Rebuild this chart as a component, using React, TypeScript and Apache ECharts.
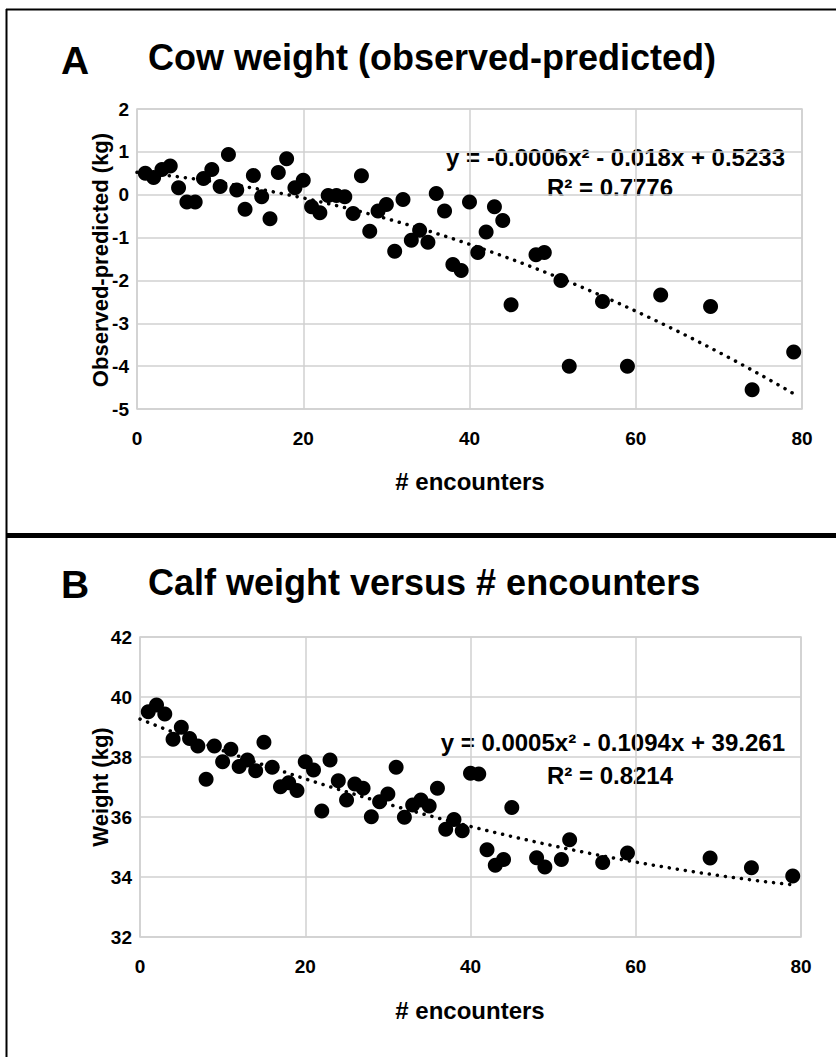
import React, { useEffect, useRef } from "react";
import * as echarts from "echarts";

// Panel A: cow weight (observed - predicted)
const cowX = [1,2,3,4,5,6,7,8,9,10,11,12,13,14,15,16,17,18,19,20,21,22,23,24,25,26,27,28,29,30,31,32,33,34,35,36,37,38,39,40,41,42,43,44,45,48,49,51,52,56,59,63,69,74,79];
const cowY = [0.50,0.40,0.59,0.67,0.16,-0.17,-0.17,0.38,0.59,0.19,0.94,0.11,-0.34,0.45,-0.05,-0.56,0.52,0.84,0.16,0.34,-0.28,-0.42,-0.02,-0.02,-0.05,-0.44,0.44,-0.85,-0.38,-0.23,-1.32,-0.11,-1.06,-0.83,-1.11,0.03,-0.38,-1.63,-1.77,-0.17,-1.35,-0.87,-0.28,-0.60,-2.57,-1.40,-1.35,-2.00,-4.00,-2.49,-4.00,-2.34,-2.61,-4.55,-3.67];
const cowTrendCoef = [-0.0006, -0.018, 0.5233];

// Panel B: calf weight
const calfX = [1,2,3,4,5,6,7,8,9,10,11,12,13,14,15,16,17,18,19,20,21,22,23,24,25,26,27,28,29,30,31,32,33,34,35,36,37,38,39,40,41,42,43,44,45,48,49,51,52,56,59,69,74,79];
const calfY = [39.51,39.73,39.43,38.59,38.99,38.62,38.37,37.26,38.37,37.84,38.26,37.68,37.90,37.54,38.49,37.66,37.01,37.14,36.88,37.84,37.57,36.20,37.90,37.21,36.57,37.10,36.96,36.01,36.51,36.77,37.66,35.99,36.40,36.57,36.37,36.96,35.59,35.92,35.54,37.46,37.43,34.91,34.39,34.58,36.32,34.64,34.33,34.58,35.24,34.48,34.80,34.63,34.31,34.03];
const calfTrendCoef = [0.0005, -0.1094, 39.261];

const xTicks = [0, 20, 40, 60, 80];
const cowYTicks = [-5, -4, -3, -2, -1, 0, 1, 2];
const calfYTicks = [32, 34, 36, 38, 40, 42];

const FONT = "'Liberation Sans', Arial, sans-serif";

function trend(coef: number[], xMax: number) {
  const pts: number[][] = [];
  for (let x = 0; x <= xMax; x += 0.5) {
    pts.push([x, coef[0] * x * x + coef[1] * x + coef[2]]);
  }
  return pts;
}

export default function App() {
  const ref = useRef<HTMLDivElement>(null);
  useEffect(() => {
    if (!ref.current) return;
    const chart = echarts.init(ref.current, null, { renderer: "svg" });
    const gridStyle = { lineStyle: { color: "#d0d0d0", width: 1.5 } };
    const axisLabel = { color: "#000", fontFamily: FONT, fontWeight: "bold", fontSize: 19 };
    const xAxisBase = {
      type: "value",
      min: xTicks[0],
      max: xTicks[xTicks.length - 1],
      interval: 20,
      axisLine: { show: false },
      axisTick: { show: false },
      splitLine: { show: true, ...gridStyle },
      axisLabel: { ...axisLabel, margin: 20 },
    };
    const yAxisBase = {
      type: "value",
      axisLine: { show: false },
      axisTick: { show: false },
      splitLine: { show: true, ...gridStyle },
      axisLabel: { ...axisLabel, margin: 8 },
    };
    const textStyle = (size: number) => ({
      fill: "#000",
      font: `bold ${size}px ${FONT}`,
    });
    const scatterStyle = { color: "#000", opacity: 1 };
    const trendStyle = { color: "#000", width: 3.5, type: [0.1, 8], cap: "round" };

    chart.setOption({
      animation: false,
      backgroundColor: "#fff",
      grid: [
        { left: 137, top: 109, width: 665, height: 300, show: true, borderColor: "#d0d0d0", borderWidth: 1.5 },
        { left: 140, top: 637, width: 661, height: 300, show: true, borderColor: "#d0d0d0", borderWidth: 1.5 },
      ],
      xAxis: [
        { ...xAxisBase, gridIndex: 0 },
        { ...xAxisBase, gridIndex: 1 },
      ],
      yAxis: [
        { ...yAxisBase, gridIndex: 0, min: cowYTicks[0], max: cowYTicks[cowYTicks.length - 1], interval: 1 },
        { ...yAxisBase, gridIndex: 1, min: calfYTicks[0], max: calfYTicks[calfYTicks.length - 1], interval: 2 },
      ],
      series: [
        {
          type: "line", xAxisIndex: 0, yAxisIndex: 0, data: trend(cowTrendCoef, 79),
          showSymbol: false, symbol: "none", lineStyle: trendStyle, z: 1,
        },
        {
          type: "scatter", xAxisIndex: 0, yAxisIndex: 0,
          data: cowX.map((x, i) => [x, cowY[i]]), symbolSize: 15, itemStyle: scatterStyle, z: 2,
        },
        {
          type: "line", xAxisIndex: 1, yAxisIndex: 1, data: trend(calfTrendCoef, 79),
          showSymbol: false, symbol: "none", lineStyle: trendStyle, z: 1,
        },
        {
          type: "scatter", xAxisIndex: 1, yAxisIndex: 1,
          data: calfX.map((x, i) => [x, calfY[i]]), symbolSize: 15, itemStyle: scatterStyle, z: 2,
        },
      ],
      graphic: [
        { type: "line", shape: { x1: 6, y1: 9.5, x2: 836, y2: 9.5 }, style: { stroke: "#000", lineWidth: 2 } },
        { type: "line", shape: { x1: 6.5, y1: 9, x2: 6.5, y2: 1057 }, style: { stroke: "#000", lineWidth: 2 } },
        { type: "line", shape: { x1: 6, y1: 535.5, x2: 836, y2: 535.5 }, style: { stroke: "#000", lineWidth: 5 } },
        { type: "text", x: 61, y: 60, style: { ...textStyle(39), text: "A", textVerticalAlign: "middle" } },
        { type: "text", x: 148, y: 57, style: { ...textStyle(36), text: "Cow weight (observed-predicted)", textVerticalAlign: "middle" } },
        { type: "text", x: 61, y: 584, style: { ...textStyle(39), text: "B", textVerticalAlign: "middle" } },
        { type: "text", x: 148, y: 582, style: { ...textStyle(36), text: "Calf weight versus # encounters", textVerticalAlign: "middle" } },
        { type: "text", x: 100, y: 260, rotation: Math.PI / 2, style: { ...textStyle(22), text: "Observed-predicted (kg)", textAlign: "center", textVerticalAlign: "middle" } },
        { type: "text", x: 100, y: 787, rotation: Math.PI / 2, style: { ...textStyle(22), text: "Weight (kg)", textAlign: "center", textVerticalAlign: "middle" } },
        { type: "text", x: 470, y: 481, style: { ...textStyle(24), text: "# encounters", textAlign: "center", textVerticalAlign: "middle" } },
        { type: "text", x: 470, y: 1010, style: { ...textStyle(24), text: "# encounters", textAlign: "center", textVerticalAlign: "middle" } },
        { type: "text", x: 785, y: 157, style: { ...textStyle(24), text: "y = -0.0006x² - 0.018x + 0.5233", textAlign: "right", textVerticalAlign: "middle" } },
        { type: "text", x: 610, y: 187, style: { ...textStyle(24), text: "R² = 0.7776", textAlign: "center", textVerticalAlign: "middle" } },
        { type: "text", x: 785, y: 742, style: { ...textStyle(24), text: "y = 0.0005x² - 0.1094x + 39.261", textAlign: "right", textVerticalAlign: "middle" } },
        { type: "text", x: 610, y: 775, style: { ...textStyle(24), text: "R² = 0.8214", textAlign: "center", textVerticalAlign: "middle" } },
      ],
    });
    return () => chart.dispose();
  }, []);
  return (
    <div
      ref={ref}
      style={{ position: "fixed", left: 0, top: 0, width: 836, height: 1057, background: "#fff" }}
    />
  );
}
